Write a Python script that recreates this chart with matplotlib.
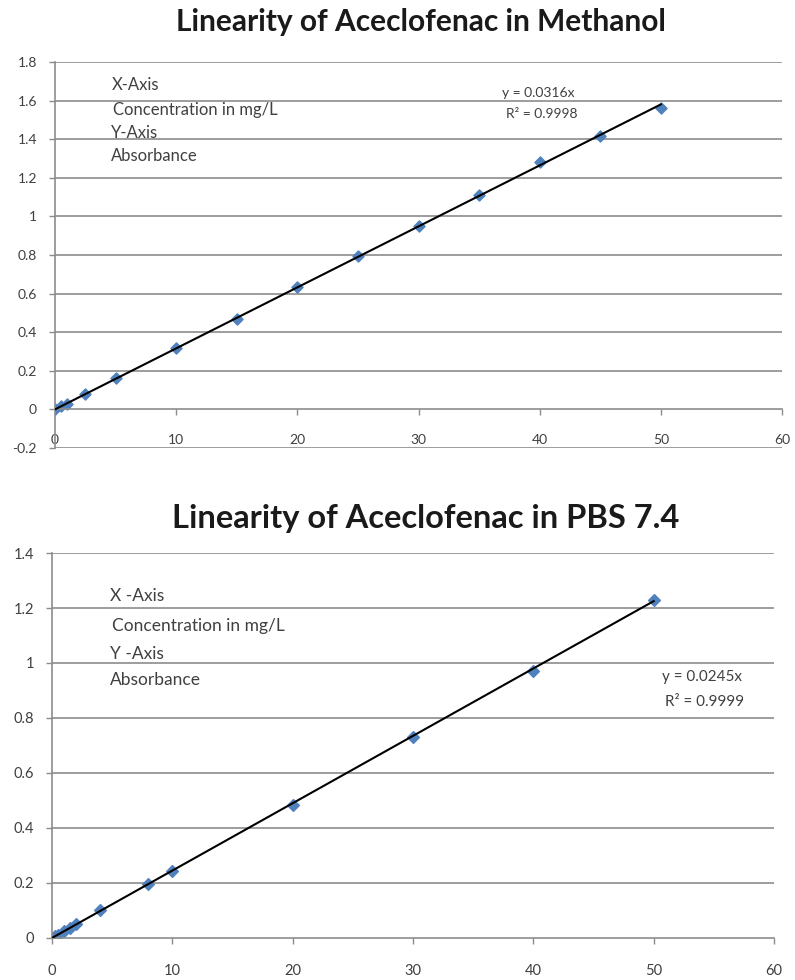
import matplotlib
matplotlib.use("Agg")
import matplotlib.pyplot as plt

plt.rcParams["font.family"] = ["Lato", "DejaVu Sans"]

# =========================
# DATA
# =========================
meth_conc = [0, 0.5, 1, 2.5, 5, 10, 15, 20, 25, 30, 35, 40, 45, 50]
meth_abs = [0, 0.015, 0.03, 0.08, 0.16, 0.32, 0.47, 0.635, 0.795, 0.95, 1.11, 1.28, 1.415, 1.56]
meth_slope = 0.0316

pbs_conc = [0, 0.25, 0.5, 1, 1.5, 2, 4, 8, 10, 20, 30, 40, 50]
pbs_abs = [0, 0.006, 0.012, 0.025, 0.037, 0.05, 0.1, 0.195, 0.245, 0.485, 0.73, 0.97, 1.23]
pbs_slope = 0.0245

meth_yticks = [-0.2, 0, 0.2, 0.4, 0.6, 0.8, 1, 1.2, 1.4, 1.6, 1.8]
pbs_yticks = [0, 0.2, 0.4, 0.6, 0.8, 1, 1.2, 1.4]
xticks = [0, 10, 20, 30, 40, 50, 60]

MARKER = "#4F81BD"
GRID = "#8c8c8c"
TXT = "#404040"


def style_axes(ax, yticks, label_size, xpad):
    ax.set_xlim(0, 60)
    ax.set_ylim(yticks[0], yticks[-1])
    ax.set_xticks(xticks)
    ax.set_yticks(yticks)
    ax.set_xticklabels([f"{v:g}" for v in xticks])
    ax.set_yticklabels([f"{v:g}" for v in yticks])
    ax.spines["top"].set_visible(False)
    ax.spines["right"].set_visible(False)
    ax.spines["bottom"].set_position(("data", 0))
    for side in ["bottom", "left"]:
        ax.spines[side].set_color(GRID)
        ax.spines[side].set_linewidth(1.2)
    ax.tick_params(axis="both", colors=GRID, labelcolor=TXT, labelsize=label_size,
                   length=4, width=1)
    ax.tick_params(axis="x", direction="out", pad=xpad)
    ax.tick_params(axis="y", pad=9)
    for y in yticks:
        if y != 0:
            ax.axhline(y, color=GRID, lw=1.2, zorder=0)


fig = plt.figure(figsize=(7.95, 9.8), dpi=100)

# =========================
# TOP: METHANOL
# =========================
ax1 = fig.add_axes([0.0692, 0.5429, 0.9145, 0.3939])
style_axes(ax1, meth_yticks, 10, 14)
ax1.plot([0, 50], [0, meth_slope * 50], color="black", lw=1.5, zorder=3)
ax1.scatter(meth_conc, meth_abs, marker="D", s=32, color=MARKER, zorder=2)
fig.text(0.529, 0.9776, "Linearity of Aceclofenac in Methanol", ha="center", va="center",
         fontsize=21.5, fontweight="bold", color="#1a1a1a")
for txt, x, yy in [("X-Axis", 4.65, 1.679), ("Concentration in mg/L", 4.8, 1.55),
                   ("Y-Axis", 4.65, 1.432), ("Absorbance", 4.65, 1.311)]:
    ax1.text(x, yy, txt, fontsize=12, color=TXT, va="center")
ax1.text(36.9, 1.637, "y = 0.0316x", fontsize=10, color=TXT, va="center")
ax1.text(37.2, 1.532, "R² = 0.9998", fontsize=10, color=TXT, va="center")

# =========================
# BOTTOM: PBS 7.4
# =========================
ax2 = fig.add_axes([0.0654, 0.0429, 0.9082, 0.3928])
style_axes(ax2, pbs_yticks, 10.5, 15)
ax2.plot([0, 50], [0, pbs_slope * 50], color="black", lw=1.5, zorder=3)
ax2.scatter(pbs_conc, pbs_abs, marker="D", s=36, color=MARKER, zorder=2)
fig.text(0.535, 0.4714, "Linearity of Aceclofenac in PBS 7.4", ha="center", va="center",
         fontsize=23.5, fontweight="bold", color="#1a1a1a")
for txt, x, yy in [("X -Axis", 4.8, 1.244), ("Concentration in mg/L", 5.0, 1.133),
                   ("Y -Axis", 4.8, 1.033), ("Absorbance", 4.8, 0.937)]:
    ax2.text(x, yy, txt, fontsize=12.5, color=TXT, va="center")
ax2.text(50.7, 0.949, "y = 0.0245x", fontsize=11, color=TXT, va="center")
ax2.text(50.9, 0.858, "R² = 0.9999", fontsize=11, color=TXT, va="center")

plt.savefig("out.png", dpi=100)
plt.close()
